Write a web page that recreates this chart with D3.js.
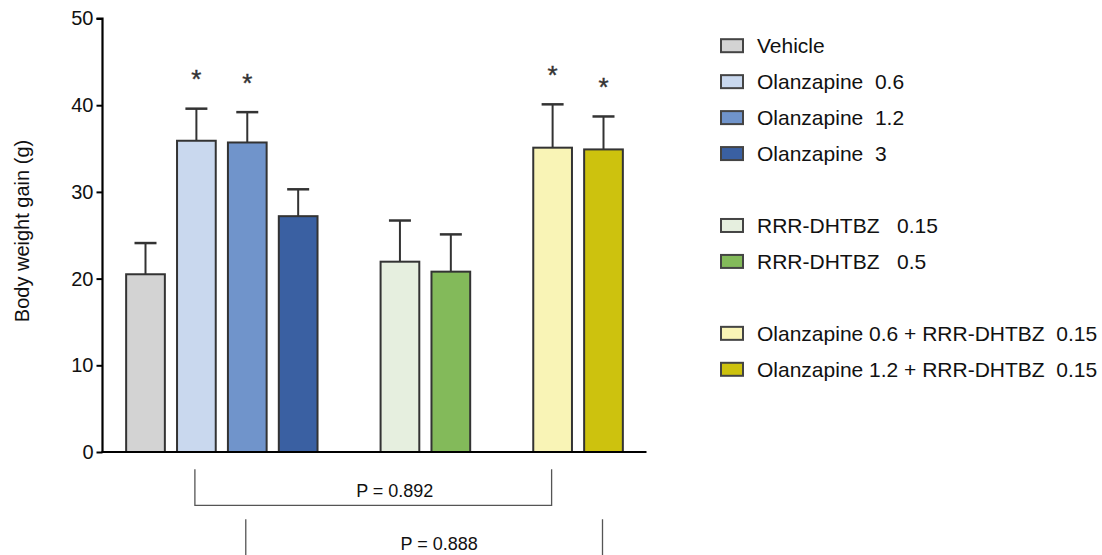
<!DOCTYPE html>
<html>
<head>
<meta charset="utf-8">
<script src="https://cdn.jsdelivr.net/npm/d3@7"></script>
<style>
  html, body { margin: 0; padding: 0; background: #fff; }
  svg { display: block; font-family: "Liberation Sans", Arial, sans-serif; }
  .legend text { white-space: pre; }
</style>
</head>
<body>
<svg id="chart" width="1102" height="555"></svg>
<script>
// ---- data ----
const categories = ["Vehicle", "Olanzapine  0.6", "Olanzapine  1.2", "Olanzapine  3", "",
  "RRR-DHTBZ   0.15", "RRR-DHTBZ   0.5", "",
  "Olanzapine 0.6 + RRR-DHTBZ  0.15", "Olanzapine 1.2 + RRR-DHTBZ  0.15"];
const means = [20.5, 35.9, 35.7, 27.2, null, 21.95, 20.8, null, 35.1, 34.9];
const errors = [3.6, 3.7, 3.5, 3.1, null, 4.75, 4.3, null, 5.0, 3.8];
const significant = [false, true, true, false, false, false, false, false, true, true];
const colors = ["#d3d3d3", "#c9d8ee", "#7094cb", "#3a60a2", null, "#e6efdf", "#83ba5a", null, "#f9f4b6", "#cdc20e"];
const yTicks = [0, 10, 20, 30, 40, 50];
const comparisons = [
  { from: 1, to: 8, label: "P = 0.892" },
  { from: 2, to: 9, label: "P = 0.888" }
];
const yLabel = "Body weight gain (g)";

// ---- layout ----
const svg = d3.select("#chart");
const x0 = 102.5, x1 = 646.5, yBottom = 452, yTop = 18.5;
const idx = d3.range(categories.length);
const x = d3.scaleBand().domain(idx).range([x0, x1]).paddingInner(0.2).paddingOuter(0.445);
const y = d3.scaleLinear().domain([0, 50]).range([yBottom, yTop]);
const stroke = "#333";
const cx = i => x(i) + x.bandwidth() / 2;

const data = idx.map(i => ({ i, name: categories[i], mean: means[i], err: errors[i], sig: significant[i], color: colors[i] }))
  .filter(d => d.mean != null);

// error bars
const eb = svg.append("g");
eb.selectAll("line.v").data(data).join("line")
  .attr("x1", d => cx(d.i)).attr("x2", d => cx(d.i))
  .attr("y1", d => y(d.mean)).attr("y2", d => y(d.mean + d.err))
  .attr("stroke", stroke).attr("stroke-width", 2);
eb.selectAll("line.c").data(data).join("line")
  .attr("x1", d => cx(d.i) - 11).attr("x2", d => cx(d.i) + 11)
  .attr("y1", d => y(d.mean + d.err)).attr("y2", d => y(d.mean + d.err))
  .attr("stroke", stroke).attr("stroke-width", 2.5);

// bars
svg.append("g").selectAll("rect").data(data).join("rect")
  .attr("x", d => x(d.i) + 1).attr("width", x.bandwidth() - 2)
  .attr("y", d => y(d.mean)).attr("height", d => y(0) - y(d.mean))
  .attr("fill", d => d.color).attr("stroke", stroke).attr("stroke-width", 2);

// asterisks
svg.append("g").selectAll("text").data(data.filter(d => d.sig)).join("text")
  .attr("x", d => cx(d.i))
  .attr("y", d => y(d.mean + d.err) - 20.5)
  .attr("text-anchor", "middle").attr("font-size", 26).attr("fill", "#333")
  .attr("stroke", "#333").attr("stroke-width", 0.4)
  .text("*");

// y axis
const yAxis = svg.append("g").attr("transform", `translate(${x0},0)`)
  .call(d3.axisLeft(y).tickValues(yTicks).tickSize(6).tickPadding(3));
yAxis.select(".domain").attr("stroke", "#000").attr("stroke-width", 2.2).attr("d", `M-6,${y(50)}H0V${y(0)}`);
yAxis.selectAll(".tick line").attr("stroke", "#000").attr("stroke-width", 2);
yAxis.selectAll(".tick text").attr("font-size", 20).attr("fill", "#111").attr("font-family", "Liberation Sans, Arial, sans-serif");

// x axis baseline
const xAxis = svg.append("g").attr("transform", `translate(0,${yBottom})`)
  .call(d3.axisBottom(x).tickValues([]).tickSizeOuter(0));
xAxis.select(".domain").attr("stroke", "#000").attr("stroke-width", 2.2).attr("d", `M${x0 - 1},0H${x1}`);

// y label
svg.append("text")
  .attr("transform", `translate(22,231) rotate(-90)`)
  .attr("text-anchor", "middle").attr("dominant-baseline", "central")
  .attr("font-size", 20).attr("fill", "#111")
  .text(yLabel);

// comparison brackets
const bTop = [469.3, 519.3], bBottom = [505.3, 558], bText = [497, 550], bTextShift = [21.5, 15];
comparisons.forEach((c, k) => {
  const xa = cx(c.from) - 1.5;
  const xb = cx(c.to) - 1;
  svg.append("path")
    .attr("d", `M${xa},${bTop[k]}V${bBottom[k]}H${xb}V${bTop[k]}`)
    .attr("fill", "none").attr("stroke", "#555").attr("stroke-width", 1.3);
  svg.append("text")
    .attr("x", (xa + xb) / 2 + bTextShift[k]).attr("y", bText[k])
    .attr("text-anchor", "middle").attr("font-size", 18).attr("fill", "#111")
    .text(c.label);
});

// legend
const legendRow = d3.scaleLinear().domain([0, 9]).range([45.7, 369.3]);
const lg = svg.append("g").attr("class", "legend");
const items = lg.selectAll("g").data(data).join("g")
  .attr("transform", d => `translate(721,${legendRow(d.i)})`);
items.append("rect").attr("x", 0).attr("y", -6.5).attr("width", 22).attr("height", 13)
  .attr("fill", d => d.color).attr("stroke", "#444").attr("stroke-width", 2);
items.append("text").attr("x", 36).attr("dy", "0.36em")
  .attr("font-size", 21).attr("fill", "#111")
  .attr("xml:space", "preserve")
  .text(d => d.name);
</script>
</body>
</html>
